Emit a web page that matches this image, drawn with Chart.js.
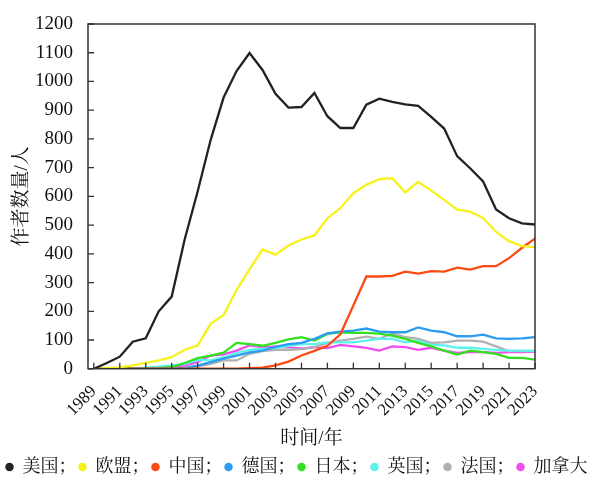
<!DOCTYPE html>
<html>
<head>
<meta charset="utf-8">
<script src="https://cdn.jsdelivr.net/npm/chart.js@4.4.1/dist/chart.umd.min.js"></script>
<style>
  body { margin: 0; background: #fff; }
  #wrap { width: 593px; height: 482px; }
</style>
</head>
<body>
<div id="wrap"><canvas id="grafico"></canvas></div>
<script>
// datos
const years = [1989,1990,1991,1992,1993,1994,1995,1996,1997,1998,1999,2000,2001,2002,2003,2004,2005,2006,2007,2008,2009,2010,2011,2012,2013,2014,2015,2016,2017,2018,2019,2020,2021,2022,2023];
const yearTicks = [1989,1991,1993,1995,1997,1999,2001,2003,2005,2007,2009,2011,2013,2015,2017,2019,2021,2023];
const yTicks = [0,100,200,300,400,500,600,700,800,900,1000,1100,1200];

const names = ['美国', '欧盟', '中国', '德国', '日本', '英国', '法国', '加拿大'];

const usa     = [0,20,42,94,106,200,251,450,617,796,944,1036,1099,1040,957,909,911,960,879,838,838,919,940,929,920,915,877,836,740,698,652,554,524,506,502];
const eu      = [0,2,5,12,20,29,40,66,81,156,187,274,346,415,397,429,450,464,524,559,611,640,660,663,614,650,620,588,554,547,525,476,444,427,423];
const china   = [0,0,0,0,0,0,0,0,0,0,0,0,2,4,12,25,46,62,80,120,220,321,321,323,338,331,340,338,352,345,357,357,385,421,453];
const germany = [0,0,0,0,0,0,0,3,11,23,35,46,57,63,76,86,90,104,123,129,133,140,129,127,127,144,133,127,113,113,119,106,104,106,110];
const japan   = [0,0,0,0,0,2,6,20,37,46,56,90,86,80,90,102,110,98,121,127,125,125,122,115,104,90,78,63,49,63,58,52,38,38,32];
const uk      = [0,0,0,0,4,7,12,17,31,29,40,54,66,69,72,80,86,86,92,92,92,98,104,104,92,98,83,81,73,73,69,66,63,63,62];
const france  = [0,0,0,0,0,0,0,3,8,17,29,29,52,61,66,66,68,75,90,98,104,112,104,123,110,104,90,92,98,98,94,78,61,61,61];
const canada  = [0,0,0,0,0,0,6,12,23,46,50,63,81,75,77,75,70,75,72,83,78,73,63,78,75,66,73,63,55,58,58,55,58,58,60];

const series = [usa, eu, china, germany, japan, uk, france, canada];
const colores = ['#222222', '#f7f21c', '#fb4a12', '#2c9cf0', '#33e01f', '#5ef2ee', '#b0b0b0', '#f04ef0'];

const serif = "'Liberation Serif', 'Noto Serif CJK SC', 'Noto Sans CJK SC', serif";

// marco y marcas hacia dentro
const marcoPlugin = {
    id: 'marco',
    afterDraw(chart) {
        const ctx = chart.ctx;
        const a = chart.chartArea;
        const xs = chart.scales.x;
        const ys = chart.scales.y;
        ctx.save();
        ctx.strokeStyle = '#333';
        ctx.lineWidth = 1.5;
        ctx.strokeRect(a.left, a.top, a.right - a.left, a.bottom - a.top);
        ctx.lineWidth = 1.3;
        ctx.beginPath();
        yearTicks.forEach(function(v) {
            const px = xs.getPixelForValue(v);
            ctx.moveTo(px, a.bottom);
            ctx.lineTo(px, a.bottom - 6);
        });
        yTicks.forEach(function(v) {
            const py = ys.getPixelForValue(v);
            ctx.moveTo(a.left, py);
            ctx.lineTo(a.left + 6, py);
        });
        ctx.stroke();
        ctx.restore();
    }
};

document.addEventListener('DOMContentLoaded', function() {
    const ctx = document.getElementById('grafico').getContext('2d');

    new Chart(ctx, {
        type: 'line',
        data: {
            datasets: series.map(function(vals, i) {
                return {
                    label: names[i],
                    data: vals.map(function(v, j) { return { x: years[j], y: v }; }),
                    borderColor: colores[i],
                    backgroundColor: colores[i],
                    borderWidth: 2.3,
                    pointRadius: 0,
                    tension: 0,
                    fill: false
                };
            })
        },
        options: {
            responsive: true,
            maintainAspectRatio: false,
            animation: false,
            layout: {
                padding: { left: 0, right: 0, top: 24, bottom: -4 }
            },
            scales: {
                x: {
                    type: 'linear',
                    min: 1988.55,
                    max: 2023,
                    afterBuildTicks: function(scale) {
                        scale.ticks = yearTicks.map(function(v) { return { value: v }; });
                    },
                    grid: { display: false },
                    border: { display: false },
                    ticks: {
                        autoSkip: false,
                        minRotation: 45,
                        maxRotation: 45,
                        padding: 5,
                        color: '#111',
                        font: { family: serif, size: 17 },
                        callback: function(v) { return String(v); }
                    },
                    title: {
                        display: true,
                        text: '时间/年',
                        color: '#111',
                        padding: { top: 2, bottom: 6 },
                        font: { family: serif, size: 19 }
                    }
                },
                y: {
                    min: 0,
                    max: 1200,
                    afterBuildTicks: function(scale) {
                        scale.ticks = yTicks.map(function(v) { return { value: v }; });
                    },
                    afterFit: function(scale) {
                        scale.width = 88;
                    },
                    grid: { display: false },
                    border: { display: false },
                    ticks: {
                        padding: 7,
                        color: '#111',
                        font: { family: serif, size: 19 },
                        callback: function(v) { return String(v); }
                    },
                    title: {
                        display: true,
                        text: '作者数量/人',
                        color: '#111',
                        padding: { top: 11, bottom: 4 },
                        font: { family: serif, size: 19 }
                    }
                },
                // eje vacio a la derecha solo para dejar el margen
                margen: {
                    position: 'right',
                    min: 0,
                    max: 1200,
                    afterFit: function(scale) {
                        scale.width = 58;
                    },
                    grid: { display: false },
                    border: { display: false },
                    ticks: { display: false }
                }
            },
            plugins: {
                tooltip: { enabled: false },
                legend: {
                    position: 'bottom',
                    labels: {
                        usePointStyle: true,
                        pointStyle: 'circle',
                        boxWidth: 8,
                        boxHeight: 6,
                        padding: 2,
                        color: '#111',
                        font: { family: serif, size: 18 },
                        generateLabels: function(chart) {
                            const base = Chart.defaults.plugins.legend.labels.generateLabels(chart);
                            return base.map(function(item, i) {
                                if (i < base.length - 1) item.text = item.text + '；';
                                item.lineWidth = 0;
                                return item;
                            });
                        }
                    }
                }
            }
        },
        plugins: [marcoPlugin]
    });
});
</script>
</body>
</html>
